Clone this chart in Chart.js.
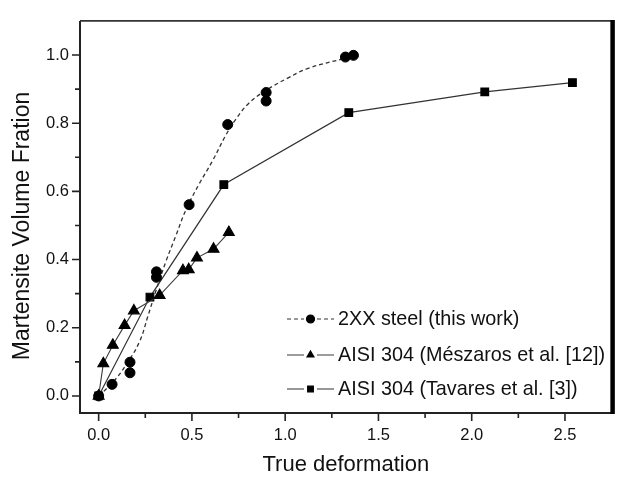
<!DOCTYPE html>
<html>
<head>
<meta charset="utf-8">
<script src="https://cdn.jsdelivr.net/npm/chart.js@4.4.0/dist/chart.umd.min.js"></script>
<style>
  html, body { margin: 0; padding: 0; background: #ffffff; }
  #wrap { width: 619px; height: 481px; position: relative; }
</style>
</head>
<body>
<div id="wrap"><canvas id="chart" width="619" height="481"></canvas></div>
<script>
// Measured martensite fraction vs. true strain
const steelStrain   = [0, 0.072, 0.168, 0.168, 0.31, 0.31, 0.485, 0.692, 0.898, 0.898, 1.323, 1.366];
const steelFraction = [0, 0.034, 0.099, 0.068, 0.364, 0.348, 0.561, 0.796, 0.890, 0.865, 0.994, 0.999];

// Fitted curve through the 2XX steel measurements
const steelFitStrain   = [0, 0.078, 0.149, 0.219, 0.264, 0.308, 0.361, 0.414, 0.468, 0.538, 0.609, 0.680, 0.733, 0.804, 0.893, 1.016, 1.123, 1.318];
const steelFitFraction = [0, 0.041, 0.093, 0.159, 0.234, 0.310, 0.395, 0.470, 0.546, 0.621, 0.688, 0.763, 0.810, 0.858, 0.895, 0.933, 0.961, 0.990];

// AISI 304 literature data
const meszarosStrain   = [0, 0.025, 0.076, 0.139, 0.189, 0.327, 0.452, 0.483, 0.527, 0.616, 0.698];
const meszarosFraction = [0, 0.095, 0.149, 0.207, 0.250, 0.295, 0.368, 0.371, 0.405, 0.431, 0.480];

const tavaresStrain   = [0, 0.275, 0.671, 1.341, 2.070, 2.540];
const tavaresFraction = [0, 0.290, 0.620, 0.831, 0.892, 0.919];

const seriesLabels = ['2XX steel (this work)', 'AISI 304 (M\u00e9szaros et al. [12])', 'AISI 304 (Tavares et al. [3])'];

// Axis ticks
const xMajorTicks = [0, 0.5, 1.0, 1.5, 2.0, 2.5];
const xMinorTicks = [0.25, 0.75, 1.25, 1.75, 2.25];
const yMajorTicks = [0, 0.2, 0.4, 0.6, 0.8, 1.0];
const yMinorTicks = [0.1, 0.3, 0.5, 0.7, 0.9];

const xTitle = 'True deformation';
const yTitle = 'Martensite Volume Fration';

const FONT = "'Liberation Sans', Arial, Helvetica, sans-serif";
const zip = (xs, ys) => xs.map((x, i) => ({ x: x, y: ys[i] }));

// Frame, tick marks, y title and the in-plot legend
const decorations = {
  id: 'decorations',
  afterDraw(chart) {
    const ctx = chart.ctx;
    const a = chart.chartArea;
    const xs = chart.scales.x, ys = chart.scales.y;
    ctx.save();

    // tick marks (outward)
    ctx.strokeStyle = '#222';
    ctx.lineWidth = 1.6;
    ctx.beginPath();
    xMajorTicks.forEach(v => { const p = xs.getPixelForValue(v); ctx.moveTo(p, a.bottom); ctx.lineTo(p, a.bottom + 8); });
    xMinorTicks.forEach(v => { const p = xs.getPixelForValue(v); ctx.moveTo(p, a.bottom); ctx.lineTo(p, a.bottom + 5); });
    yMajorTicks.forEach(v => { const p = ys.getPixelForValue(v); ctx.moveTo(a.left, p); ctx.lineTo(a.left - 8, p); });
    yMinorTicks.forEach(v => { const p = ys.getPixelForValue(v); ctx.moveTo(a.left, p); ctx.lineTo(a.left - 5, p); });
    ctx.stroke();

    // frame
    ctx.strokeStyle = '#222';
    ctx.lineWidth = 2;
    ctx.beginPath();
    ctx.moveTo(a.left, a.top); ctx.lineTo(a.left, a.bottom + 1);
    ctx.moveTo(a.left - 1, a.bottom); ctx.lineTo(a.right, a.bottom);
    ctx.stroke();
    ctx.strokeStyle = '#333';
    ctx.lineWidth = 1.6;
    ctx.beginPath();
    ctx.moveTo(a.left, a.top); ctx.lineTo(a.right, a.top);
    ctx.stroke();
    ctx.strokeStyle = '#000';
    ctx.lineWidth = 4.5;
    ctx.beginPath();
    ctx.moveTo(a.right + 1, a.top - 1); ctx.lineTo(a.right + 1, a.bottom + 1);
    ctx.stroke();

    // y title
    ctx.fillStyle = '#111';
    ctx.font = '23px ' + FONT;
    ctx.textAlign = 'center';
    ctx.textBaseline = 'middle';
    ctx.translate(23, 226);
    ctx.rotate(-Math.PI / 2);
    ctx.fillText(yTitle, 0, 0);
    ctx.restore();

    // legend
    const rows = [
      { ds: chart.data.datasets[1], mk: chart.data.datasets[0] },
      { ds: chart.data.datasets[2], mk: chart.data.datasets[2] },
      { ds: chart.data.datasets[3], mk: chart.data.datasets[3] }
    ];
    const rowY = [319, 355, 389];
    ctx.save();
    rows.forEach((r, i) => {
      const y = rowY[i];
      ctx.strokeStyle = r.ds.borderColor;
      ctx.lineWidth = 1.2;
      ctx.setLineDash(r.ds.borderDash || []);
      ctx.beginPath();
      ctx.moveTo(287, y); ctx.lineTo(304, y);
      ctx.moveTo(317, y); ctx.lineTo(334, y);
      ctx.stroke();
      ctx.setLineDash([]);
      ctx.fillStyle = '#000';
      ctx.strokeStyle = '#000';
      Chart.helpers.drawPoint(ctx, { pointStyle: r.mk.pointStyle, radius: 4, rotation: 0, borderWidth: 1 }, 310.5, y);
      ctx.fillStyle = '#111';
      ctx.font = '19.8px ' + FONT;
      ctx.textAlign = 'left';
      ctx.textBaseline = 'middle';
      ctx.fillText(seriesLabels[i], 338, y + 1);
    });
    ctx.restore();
  }
};

new Chart(document.getElementById('chart'), {
  type: 'scatter',
  data: {
    datasets: [
      {
        label: seriesLabels[0],
        data: zip(steelStrain, steelFraction),
        showLine: false,
        pointStyle: 'circle',
        pointRadius: 5,
        backgroundColor: '#000',
        borderColor: '#000',
        borderWidth: 1,
        order: 0
      },
      {
        label: seriesLabels[0] + ' fit',
        data: zip(steelFitStrain, steelFitFraction),
        showLine: true,
        pointRadius: 0,
        borderColor: '#333',
        borderWidth: 1.3,
        borderDash: [4, 3],
        tension: 0.4,
        order: 3
      },
      {
        label: seriesLabels[1],
        data: zip(meszarosStrain, meszarosFraction),
        showLine: true,
        pointStyle: 'triangle',
        pointRadius: 6.3,
        backgroundColor: '#000',
        borderColor: '#3a3a3a',
        pointBorderColor: '#000',
        borderWidth: 1.1,
        order: 1
      },
      {
        label: seriesLabels[2],
        data: zip(tavaresStrain, tavaresFraction),
        showLine: true,
        pointStyle: 'rect',
        pointRadius: 5.4,
        backgroundColor: '#000',
        borderColor: '#333',
        pointBorderColor: '#000',
        borderWidth: 1.2,
        order: 2
      }
    ]
  },
  options: {
    responsive: false,
    animation: false,
    devicePixelRatio: 1,
    layout: { padding: { top: 7, right: 3, left: 0, bottom: 0 } },
    plugins: { legend: { display: false }, tooltip: { enabled: false } },
    scales: {
      x: {
        type: 'linear',
        min: -0.1,
        max: 2.75,
        grid: { display: false, drawTicks: false },
        border: { display: false },
        afterBuildTicks: s => { s.ticks = xMajorTicks.map(v => ({ value: v })); },
        afterFit: s => { s.height = 68; },
        ticks: {
          padding: 13,
          color: '#111',
          font: { family: FONT, size: 16.5 },
          maxRotation: 0,
          autoSkip: false,
          callback: v => Number(v).toFixed(1)
        },
        title: {
          display: true,
          text: xTitle,
          color: '#111',
          font: { family: FONT, size: 22 },
          padding: { top: 0, bottom: 3 }
        }
      },
      y: {
        type: 'linear',
        min: -0.05,
        max: 1.1,
        grid: { display: false, drawTicks: false },
        border: { display: false },
        afterBuildTicks: s => { s.ticks = yMajorTicks.map(v => ({ value: v })); },
        afterFit: s => { s.width = 80; },
        ticks: {
          padding: 11,
          color: '#111',
          font: { family: FONT, size: 16.5 },
          autoSkip: false,
          callback: v => Number(v).toFixed(1)
        }
      }
    }
  },
  plugins: [decorations]
});
</script>
</body>
</html>
